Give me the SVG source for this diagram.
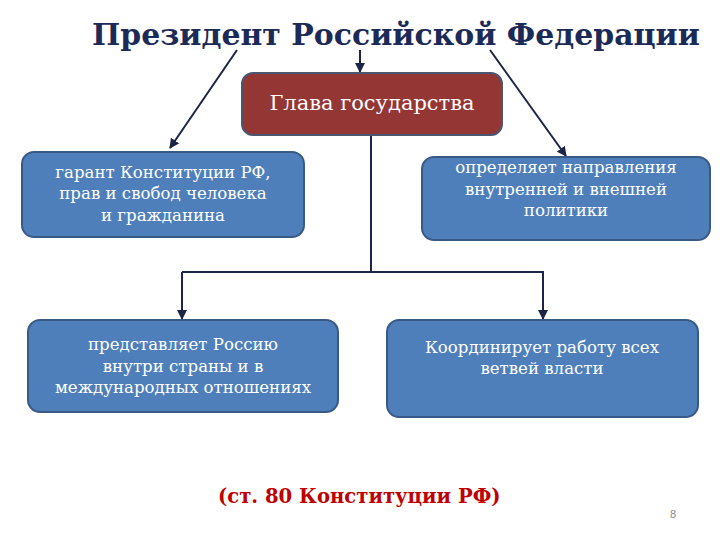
<svg xmlns="http://www.w3.org/2000/svg" width="720" height="540" viewBox="0 0 720 540">
<style>
.title{font-family:"DejaVu Serif","Liberation Serif",serif;font-weight:bold;font-size:29px;fill:#1c2a57}
.head{fill:#943634;stroke:#4b5570;stroke-width:2}
.box{fill:#4f7fbb;stroke:#3a5a86;stroke-width:2}
.t{font-family:"DejaVu Serif","Liberation Serif",serif;font-size:16.6px;fill:#ffffff;text-anchor:middle}
.c{stroke:#1c2447;stroke-width:2;fill:none}
.foot{font-family:"DejaVu Serif","Liberation Serif",serif;font-weight:bold;font-size:19.6px;fill:#c00000}
</style>
<defs>
<marker id="ah" viewBox="0 0 10 10" refX="9" refY="5" markerWidth="5" markerHeight="5" orient="auto" markerUnits="strokeWidth">
<path d="M0,0 L10,5 L0,10 z" fill="#1c2447"/>
</marker>
</defs>
<rect width="720" height="540" fill="#ffffff"/>
<text class="title" x="92" y="45" textLength="608" lengthAdjust="spacingAndGlyphs">Президент Российской Федерации</text>
<g id="connectors">
<line class="c" x1="237" y1="50" x2="170" y2="148" marker-end="url(#ah)"/>
<line class="c" x1="360" y1="50" x2="360" y2="72" marker-end="url(#ah)"/>
<line class="c" x1="490" y1="50" x2="566" y2="156" marker-end="url(#ah)"/>
<polyline class="c" points="371,135 371,272"/>
<polyline class="c" points="182,272 543,272 543,319" marker-end="url(#ah)"/>
<line class="c" x1="182" y1="272" x2="182" y2="319" marker-end="url(#ah)"/>
</g>
<g id="head">
<rect class="head" x="242" y="73" width="260" height="62" rx="11"/>
<text class="t" x="372" y="110" style="font-size:21px">Глава государства</text>
</g>
<g id="guarantor">
<rect class="box" x="22" y="152" width="282" height="85" rx="12"/>
<text class="t" x="163" y="178">гарант Конституции РФ,</text>
<text class="t" x="163" y="199">прав и свобод человека</text>
<text class="t" x="163" y="221">и гражданина</text>
</g>
<g id="policy">
<rect class="box" x="422" y="157" width="288" height="83" rx="12"/>
<text class="t" x="566" y="173">определяет направления</text>
<text class="t" x="566" y="195">внутренней и внешней</text>
<text class="t" x="566" y="216">политики</text>
</g>
<g id="represents">
<rect class="box" x="28" y="320" width="310" height="92" rx="12"/>
<text class="t" x="183" y="350">представляет Россию</text>
<text class="t" x="183" y="372">внутри страны и в</text>
<text class="t" x="183" y="393">международных отношениях</text>
</g>
<g id="coordinates">
<rect class="box" x="387" y="320" width="311" height="97" rx="12"/>
<text class="t" x="542" y="353">Координирует работу всех</text>
<text class="t" x="542" y="374">ветвей власти</text>
</g>
<text class="foot" x="218" y="503">(ст. 80 Конституции РФ)</text>
<text x="673" y="518" style="font-family:'Liberation Sans',sans-serif;font-size:11px;fill:#8a8a8a;text-anchor:middle">8</text>
</svg>
